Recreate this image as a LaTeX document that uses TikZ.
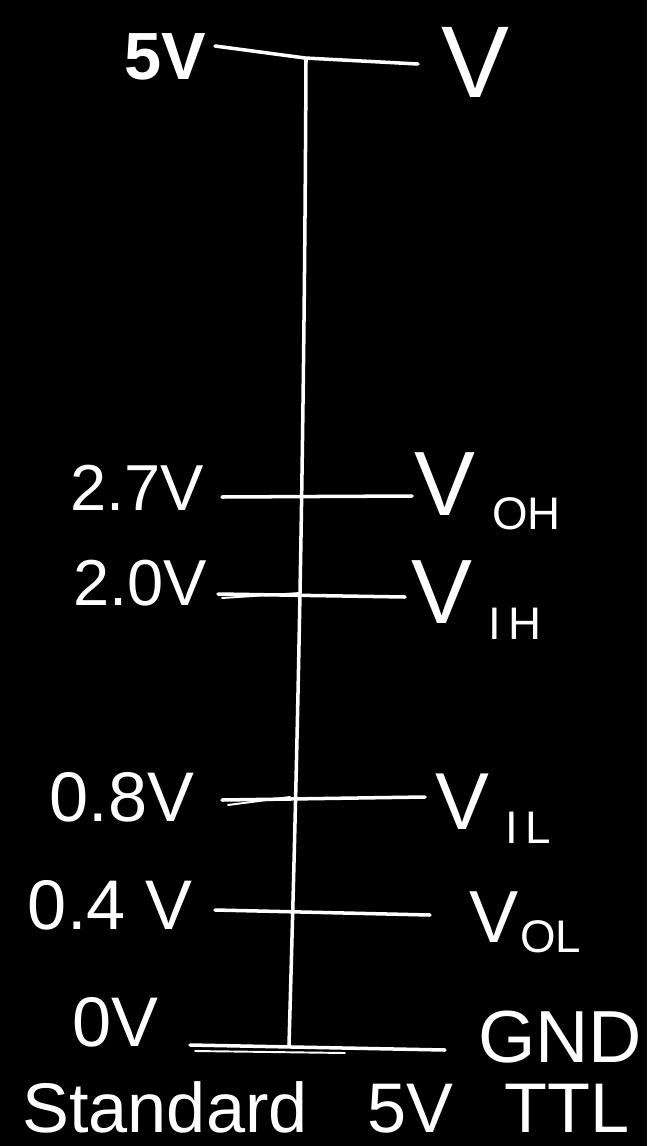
\documentclass[tikz,border=0pt]{standalone}
\usepackage{fontspec}
\setmainfont{Liberation Sans}
\begin{document}
\begin{tikzpicture}[x=0.02cm,y=-0.02cm,
  chalk/.style={draw=white,line width=2pt,line cap=round,line join=round},
  thin chalk/.style={draw=white,line width=1.1pt,line cap=round},
  lab/.style={text=white,inner sep=0pt,font=\fontsize{37}{40}\selectfont},
  bigv/.style={text=white,inner sep=0pt,font=\fontsize{52}{56}\selectfont},
  sublab/.style={text=white,inner sep=0pt,font=\fontsize{26}{28}\selectfont},
  captext/.style={text=white,inner sep=0pt,anchor=base,font=\fontsize{40}{44}\selectfont}]
\fill[black] (0,0) rectangle (647,1146);
\useasboundingbox (0,0) rectangle (647,1146);

% coordinates of the rails
\coordinate (t1) at (215,46);
\coordinate (tj) at (305,58);
\coordinate (t2) at (418,64);
\coordinate (vtop) at (306,60);
\coordinate (vmid) at (304,500);
\coordinate (vlow) at (296,800);
\coordinate (vbot) at (289,1045);
\coordinate (a1) at (222,497);  \coordinate (a2) at (412,496);
\coordinate (b1) at (218,594);  \coordinate (b2) at (405,597);
\coordinate (b3) at (222,598);  \coordinate (b4) at (300,593);
\coordinate (c1) at (222,800);  \coordinate (c2) at (425,797);
\coordinate (c3) at (228,805);  \coordinate (c4) at (290,797);
\coordinate (d1) at (215,910);  \coordinate (d2) at (430,915);
\coordinate (e1) at (190,1045); \coordinate (e2) at (445,1050);
\coordinate (e3) at (195,1051); \coordinate (e4) at (345,1053);

% rails
\draw[chalk] (t1) -- (tj) -- (t2);
\draw[chalk] (vtop) .. controls (vmid) and (vlow) .. (vbot);
\draw[chalk] (a1) -- (a2);
\draw[chalk] (b1) -- (b2);
\draw[thin chalk] (b3) -- (b4);
\draw[chalk] (c1) -- (c2);
\draw[thin chalk] (c3) -- (c4);
\draw[chalk] (d1) -- (d2);
\draw[chalk] (e1) -- (e2);
\draw[thin chalk] (e3) -- (e4);

% left labels
\node[lab,font=\bfseries\fontsize{38}{40}\selectfont] (l5) at (165,57) {5V};
\node[lab] (l27) at (137,488) {2.7V};
\node[lab] (l20) at (140,583) {2.0V};
\node[lab,font=\fontsize{40}{42}\selectfont] (l08) at (122,797) {0.8V};
\node[lab,font=\fontsize{40}{42}\selectfont] (l04) at (110,905) {0.4 V};
\node[lab,font=\fontsize{40}{42}\selectfont] (l0) at (115,1022) {0V};

% right labels
\node[bigv,font=\fontsize{58}{60}\selectfont] (rv) at (475,62) {V};
\node[bigv] (voh) at (445,484) {V};
\node[sublab,anchor=west] (soh) at (492,514) {OH};
\node[bigv] (vih) at (442,592) {V};
\node[sublab,anchor=west] (sih) at (488,624) {I\,H};
\node[bigv,font=\fontsize{46}{48}\selectfont] (vil) at (462,802) {V};
\node[sublab,anchor=west] (sil) at (505,828) {I\,L};
\node[bigv,font=\fontsize{42}{44}\selectfont] (vol) at (494,917) {V};
\node[sublab,anchor=west] (sol) at (520,937) {OL};
\node[text=white,inner sep=0pt,font=\fontsize{42}{44}\selectfont] (gnd) at (560,1037) {GND};

% caption
\node[captext] (c1n) at (165,1132) {Standard};
\node[captext] (c2n) at (410,1132) {5V};
\node[captext] (c3n) at (567,1132) {TTL};
\end{tikzpicture}
\end{document}
